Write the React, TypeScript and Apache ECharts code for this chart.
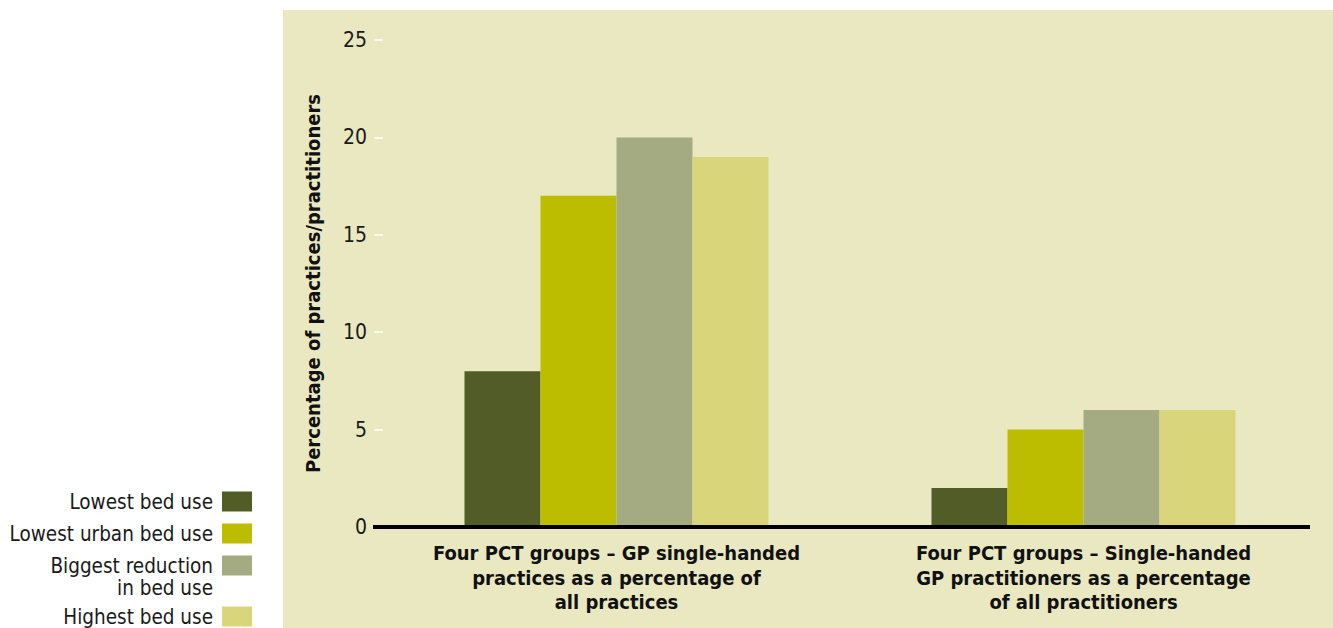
import React, { useEffect, useRef } from "react";
import * as echarts from "echarts";

const categories = [
  "Four PCT groups – GP single-handed\npractices as a percentage of\nall practices",
  "Four PCT groups – Single-handed\nGP practitioners as a percentage\nof all practitioners",
];
const seriesNames = [
  "Lowest bed use",
  "Lowest urban bed use",
  "Biggest reduction in bed use",
  "Highest bed use",
];
const lowestBedUse = [8, 2];
const lowestUrbanBedUse = [17, 5];
const biggestReduction = [20, 6];
const highestBedUse = [19, 6];
const yTicks = [0, 5, 10, 15, 20, 25];
const colors = ["#525c27", "#bdbd00", "#a4ab83", "#d8d57a"];

const FONT = "DejaVu Sans Condensed";

export default function App() {
  const ref = useRef<HTMLDivElement>(null);
  useEffect(() => {
    document.body.style.margin = "0";
    const chart = echarts.init(ref.current!, null, { renderer: "svg" });
    const values = [lowestBedUse, lowestUrbanBedUse, biggestReduction, highestBedUse];
    const legendText = {
      color: "#1a1a1a",
      fontFamily: FONT,
      fontSize: 20.5,
      lineHeight: 23,
      padding: [0, 4, 0, 0],
    };
    chart.setOption({
      animation: false,
      backgroundColor: "#ffffff",
      graphic: [
        {
          type: "rect",
          z: -10,
          silent: true,
          shape: { x: 283, y: 10, width: 1050, height: 618 },
          style: { fill: "#e9e8c0" },
        },
        {
          type: "line",
          z: 10,
          silent: true,
          shape: { x1: 373, y1: 527, x2: 1310, y2: 527 },
          style: { stroke: "#000000", lineWidth: 4 },
        },
        {
          type: "text",
          silent: true,
          style: {
            text: "in bed use",
            x: 213,
            y: 588,
            align: "right",
            verticalAlign: "middle",
            fill: "#1a1a1a",
            fontFamily: FONT,
            fontSize: 20.5,
          },
        },
      ],
      legend: [
        {
          orient: "vertical",
          align: "right",
          right: 1333 - 252,
          top: 490,
          padding: 0,
          itemGap: 9,
          itemWidth: 30,
          itemHeight: 20,
          icon: "rect",
          selectedMode: false,
          data: seriesNames.slice(0, 3),
          formatter: (n: string) => (n === "Biggest reduction in bed use" ? "Biggest reduction" : n),
          textStyle: legendText,
        },
        {
          orient: "vertical",
          align: "right",
          right: 1333 - 252,
          top: 605,
          padding: 0,
          itemGap: 9,
          itemWidth: 30,
          itemHeight: 20,
          icon: "rect",
          selectedMode: false,
          data: seriesNames.slice(3),
          textStyle: legendText,
        },
      ],
      grid: { left: 383, right: 16, top: 40, bottom: 101, containLabel: false },
      xAxis: {
        type: "category",
        data: categories,
        axisLine: { show: false },
        axisTick: { show: false },
        axisLabel: {
          margin: 14,
          color: "#111111",
          fontFamily: FONT,
          fontWeight: "bold",
          fontSize: 20,
          lineHeight: 24.5,
          interval: 0,
        },
      },
      yAxis: {
        type: "value",
        min: yTicks[0],
        max: yTicks[yTicks.length - 1],
        interval: 5,
        name: "Percentage of practices/practitioners",
        nameLocation: "middle",
        nameGap: 60,
        nameTextStyle: {
          color: "#111111",
          fontFamily: FONT,
          fontWeight: "bold",
          fontSize: 20,
        },
        axisLine: { show: false },
        axisTick: { show: true, length: 9, lineStyle: { color: "#ffffff", width: 1.5 } },
        splitLine: { show: false },
        axisLabel: {
          margin: 16,
          color: "#1a1a1a",
          fontFamily: FONT,
          fontSize: 21,
        },
      },
      series: seriesNames.map((name, i) => ({
        name,
        type: "bar",
        data: values[i],
        barWidth: 76,
        barGap: "0%",
        itemStyle: { color: colors[i] },
      })),
    });
    return () => chart.dispose();
  }, []);
  return (
    <div
      ref={ref}
      style={{ position: "absolute", left: 0, top: 0, width: 1333, height: 628 }}
    />
  );
}
